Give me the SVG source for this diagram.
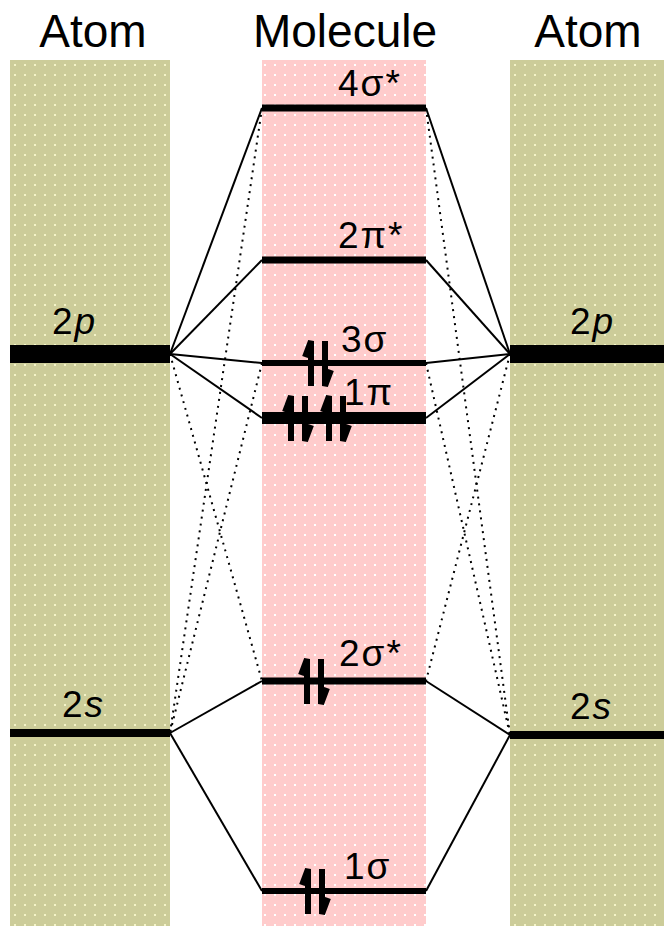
<svg xmlns="http://www.w3.org/2000/svg" width="664" height="926" viewBox="0 0 664 926">
<defs>
<pattern id="dotK" width="10" height="10" patternUnits="userSpaceOnUse">
<rect width="10" height="10" fill="#cccc99"/>
<rect x="4" y="4" width="2" height="2" fill="#f4f4c8"/>
</pattern>
<pattern id="dotP" width="10" height="10" patternUnits="userSpaceOnUse">
<rect width="10" height="10" fill="#ffcccc"/>
<rect x="4" y="4" width="2" height="2" fill="#ffffff"/>
</pattern>
<path id="pair" d="M-7,23 V-22 L-13,-6 M7,-22 V23 L13,7" fill="none" stroke="#000" stroke-width="6" stroke-linejoin="miter"/>
</defs>
<style>
.title{font-family:"Liberation Sans",Arial,sans-serif;font-size:46px;fill:#000}
.lbl{font-family:"Liberation Sans",Arial,sans-serif;font-size:37px;fill:#000;letter-spacing:2px}
.lvl{stroke:#000;fill:none}
.sol{stroke:#000;stroke-width:2;fill:none}
.dot{stroke:#000;stroke-width:2;fill:none;stroke-dasharray:2 5}
</style>
<rect width="664" height="926" fill="#fff"/>
<g id="columns">
<rect x="10" y="60" width="160" height="866" fill="url(#dotK)"/>
<rect x="262" y="60" width="164" height="866" fill="url(#dotP)"/>
<rect x="510" y="60" width="154" height="866" fill="url(#dotK)"/>
</g>
<g id="titles">
<text class="title" x="93" y="47" text-anchor="middle">Atom</text>
<text class="title" x="345" y="47" text-anchor="middle">Molecule</text>
<text class="title" x="588" y="47" text-anchor="middle">Atom</text>
</g>
<g id="connectors">
<line class="sol" x1="170" y1="354" x2="262" y2="108"/>
<line class="sol" x1="170" y1="354" x2="262" y2="260"/>
<line class="sol" x1="170" y1="354" x2="262" y2="363"/>
<line class="sol" x1="170" y1="354" x2="262" y2="418"/>
<line class="sol" x1="510" y1="354" x2="426" y2="108"/>
<line class="sol" x1="510" y1="354" x2="426" y2="260"/>
<line class="sol" x1="510" y1="354" x2="426" y2="363"/>
<line class="sol" x1="510" y1="354" x2="426" y2="418"/>
<line class="sol" x1="170" y1="733" x2="262" y2="681"/>
<line class="sol" x1="170" y1="733" x2="262" y2="891"/>
<line class="sol" x1="510" y1="735" x2="426" y2="681"/>
<line class="sol" x1="510" y1="735" x2="426" y2="891"/>
<line class="dot" x1="170" y1="354" x2="262" y2="681"/>
<line class="dot" x1="262" y1="108" x2="170" y2="733"/>
<line class="dot" x1="262" y1="363" x2="170" y2="733"/>
<line class="dot" x1="510" y1="354" x2="426" y2="681"/>
<line class="dot" x1="426" y1="108" x2="510" y2="735"/>
<line class="dot" x1="426" y1="363" x2="510" y2="735"/>
</g>
<g id="atomL-2p">
<line class="lvl" x1="10" y1="354" x2="170" y2="354" stroke-width="18"/>
<text class="lbl" x="52" y="334">2<tspan font-style="italic">p</tspan></text>
</g>
<g id="atomL-2s">
<line class="lvl" x1="10" y1="733" x2="170" y2="733" stroke-width="8"/>
<text class="lbl" x="62" y="717">2<tspan font-style="italic">s</tspan></text>
</g>
<g id="atomR-2p">
<line class="lvl" x1="510" y1="354" x2="664" y2="354" stroke-width="18"/>
<text class="lbl" x="570" y="334">2<tspan font-style="italic">p</tspan></text>
</g>
<g id="atomR-2s">
<line class="lvl" x1="510" y1="735" x2="664" y2="735" stroke-width="8"/>
<text class="lbl" x="570" y="719">2<tspan font-style="italic">s</tspan></text>
</g>
<g id="mo-4sigma-star">
<line class="lvl" x1="262" y1="108" x2="426" y2="108" stroke-width="7"/>
<text class="lbl" x="338" y="96">4σ*</text>
</g>
<g id="mo-2pi-star">
<line class="lvl" x1="262" y1="260" x2="426" y2="260" stroke-width="7"/>
<text class="lbl" x="338" y="248">2π*</text>
</g>
<g id="mo-3sigma">
<line class="lvl" x1="262" y1="363" x2="426" y2="363" stroke-width="6"/>
<text class="lbl" x="341" y="352">3σ</text>
<use href="#pair" x="318" y="363"/>
</g>
<g id="mo-1pi">
<line class="lvl" x1="262" y1="418" x2="426" y2="418" stroke-width="12"/>
<text class="lbl" x="344" y="405">1π</text>
<use href="#pair" x="298" y="418"/>
<use href="#pair" x="336" y="418"/>
</g>
<g id="mo-2sigma-star">
<line class="lvl" x1="262" y1="681" x2="426" y2="681" stroke-width="7"/>
<text class="lbl" x="339" y="666">2σ*</text>
<use href="#pair" x="314" y="681"/>
</g>
<g id="mo-1sigma">
<line class="lvl" x1="262" y1="891" x2="426" y2="891" stroke-width="6"/>
<text class="lbl" x="344" y="879">1σ</text>
<use href="#pair" x="315" y="891"/>
</g>
</svg>
